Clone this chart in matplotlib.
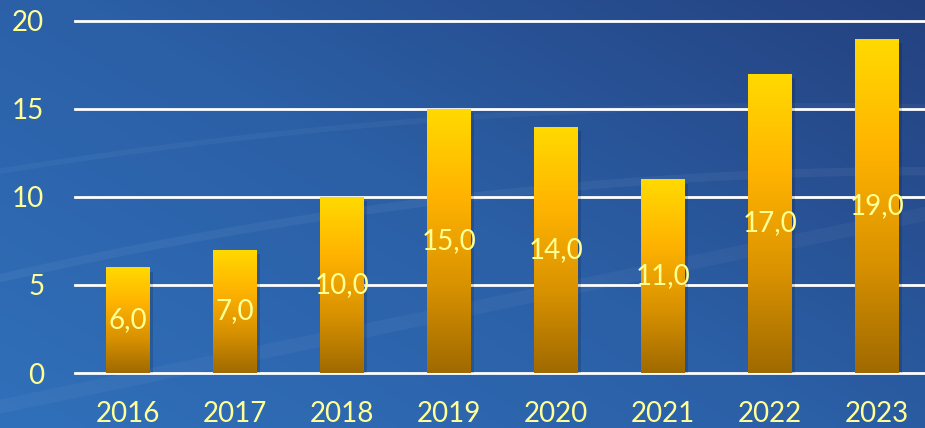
import matplotlib.pyplot as plt
import numpy as np
from matplotlib.colors import LinearSegmentedColormap

years = ['2016', '2017', '2018', '2019', '2020', '2021', '2022', '2023']
values = [6.0, 7.0, 10.0, 15.0, 14.0, 11.0, 17.0, 19.0]
yticks = [0, 5, 10, 15, 20]

txt_color = '#FFFF96'
plt.rcParams['font.family'] = ['Lato', 'DejaVu Sans']

fig = plt.figure(figsize=(9.25, 4.28), dpi=100)

# background: blue gradient with a few faint streaks
bg = fig.add_axes([0, 0, 1, 1], zorder=0)
bg.set_axis_off()
xx, yy = np.meshgrid(np.linspace(0, 1, 300), np.linspace(0, 1, 200))
t = np.clip(0.55 * xx + 0.45 * yy, 0, 1)
bg_cmap = LinearSegmentedColormap.from_list('bgc', ['#3070BA', '#2B5FA6', '#24417F'])
bg.imshow(t, cmap=bg_cmap, extent=[0, 1, 0, 1], origin='lower', aspect='auto')
s = np.linspace(0, 1, 200)
bg.plot(s, 0.35 + 0.5 * s - 0.25 * s ** 2, color='white', alpha=0.05, lw=6)
bg.plot(s, 0.05 + 0.45 * s, color='white', alpha=0.04, lw=10)
bg.plot(s, 0.60 + 0.35 * s - 0.2 * s ** 2, color='white', alpha=0.04, lw=4)
bg.set_xlim(0, 1)
bg.set_ylim(0, 1)

ax = fig.add_axes([0.081, 0.1285, 0.919, 0.8225], zorder=1)
ax.patch.set_alpha(0)
x = np.arange(len(years))
bars = ax.bar(x, values, width=0.41, color='none', zorder=3)

bar_cmap = LinearSegmentedColormap.from_list('gold', ['#A06A00', '#D99200', '#FFB300', '#FFDA00'])
grad = np.linspace(0, 1, 256).reshape(-1, 1)
for b in bars:
    bx, by = b.get_x(), b.get_y()
    w, h = b.get_width(), b.get_height()
    # soft shadow
    ax.bar(bx + w / 2 + 0.03, h, width=w, bottom=-0.25, color='black', alpha=0.15, zorder=2)
    im = ax.imshow(grad, cmap=bar_cmap, extent=[bx, bx + w, by, by + h],
                   origin='lower', aspect='auto', zorder=3)
    im.set_clip_path(b)

for xi, v in zip(x, values):
    ax.text(xi, v / 2, f'{v:.1f}'.replace('.', ','), ha='center', va='center',
            color=txt_color, fontsize=20, zorder=5)

ax.set_xlim(-0.495, 7.45)
ax.set_ylim(0, 20)
ax.set_yticks(yticks)
ax.set_xticks(x)
ax.set_xticklabels(years)
ax.tick_params(colors=txt_color, labelsize=20, length=0)
ax.tick_params(axis='y', pad=22)
ax.tick_params(axis='x', pad=20)
for v in yticks:
    ax.axhline(v, color='white', lw=2, zorder=1, clip_on=False)
for sp in ax.spines.values():
    sp.set_visible(False)

fig.savefig('out.png', dpi=100)
